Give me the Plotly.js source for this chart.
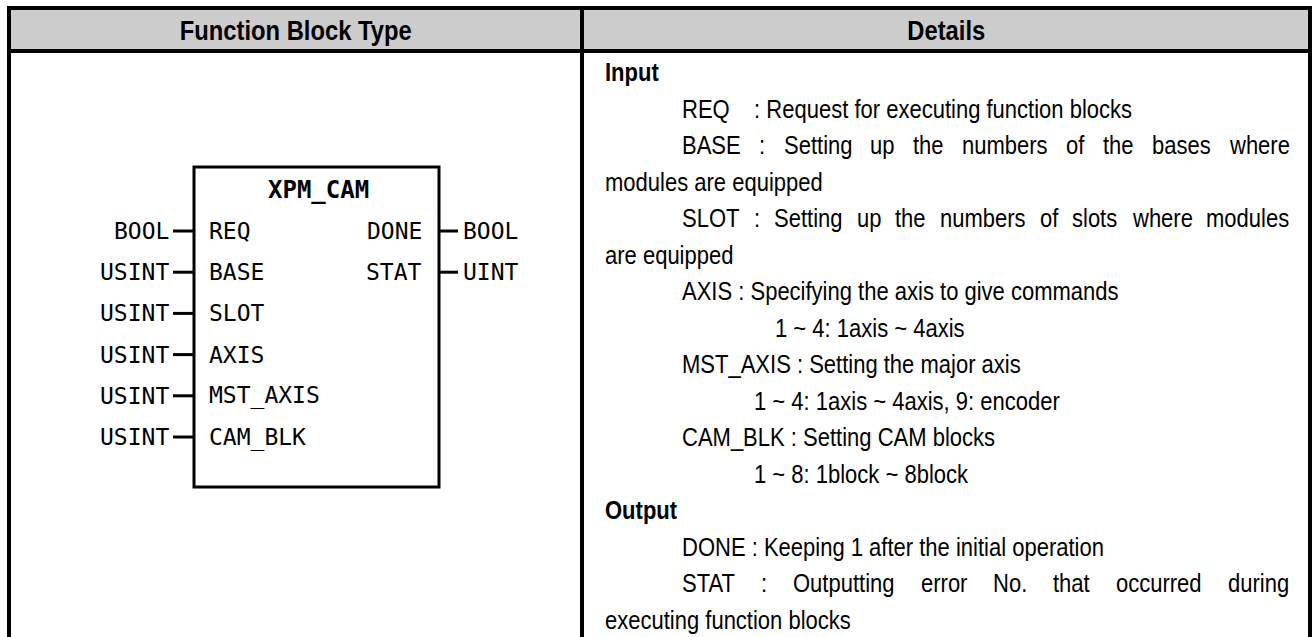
<!DOCTYPE html>
<html>
<head>
<meta charset="utf-8">
<script src="https://cdn.plot.ly/plotly-3.0.1.min.js"></script>
<style>
  html, body { margin: 0; padding: 0; background: #ffffff; }
  #chart { width: 1314px; height: 637px; }
</style>
</head>
<body>
<div id="chart"></div>
<script>
// ---------------- DATA ----------------
const headerLabels = ["Function Block Type", "Details"];
const blockName = "XPM_CAM";
const inputNames = ["REQ", "BASE", "SLOT", "AXIS", "MST_AXIS", "CAM_BLK"];
const inputTypes = ["BOOL", "USINT", "USINT", "USINT", "USINT", "USINT"];
const outputNames = ["DONE", "STAT"];
const outputTypes = ["BOOL", "UINT"];
const detailLines = [
  "Input",
  "REQ   : Request for executing function blocks",
  "BASE : Setting up the numbers of the bases where",
  "modules are equipped",
  "SLOT : Setting up the numbers of slots where modules",
  "are equipped",
  "AXIS : Specifying the axis to give commands",
  "1 ~ 4: 1axis ~ 4axis",
  "MST_AXIS : Setting the major axis",
  "1 ~ 4: 1axis ~ 4axis, 9: encoder",
  "CAM_BLK : Setting CAM blocks",
  "1 ~ 8: 1block ~ 8block",
  "Output",
  "DONE : Keeping 1 after the initial operation",
  "STAT : Outputting error No. that occurred during",
  "executing function blocks"
];
// role of each detail line (heading, item, justified item, wrapped continuation, range)
const detailRoles = [
  "head", "item", "itemJ", "wrap", "itemJ", "wrap", "item", "range2",
  "item", "range", "item", "range", "head", "item", "itemJ", "wrap"
];

// ---------------- LAYOUT / STYLE ----------------
const W = 1314, H = 637;
const T = { left: 9, right: 1310, top: 8, headBottom: 51, divider: 582, lw: 4 };
const BOX = { x0: 194, x1: 439, y0: 167, y1: 487, lw: 3 };
const PIN = { firstY: 231, step: 41.2, typeRight: 169, dashIn0: 173, nameIn: 209,
              outNameRight: 422, dashOut1: 458, typeOutLeft: 463 };
const DET = { firstY: 72, step: 36.5, textRight: 1289,
              indent: { head: 605, item: 682, itemJ: 682, wrap: 605, range: 754, range2: 775 } };
const bodyFont = '"Liberation Sans Narrow", "Arial Narrow", "Liberation Sans", Arial, sans-serif';
const monoFont = '"DejaVu Sans Mono", "Liberation Mono", monospace';
const bodySize = 25, headSize = 27, monoSize = 23;
const SX = 0.88;              // horizontal condensing of the body font (narrow look)
const black = "#000000", headGray = "#cccccc";

const shapes = [];
const annotations = [];
const condensed = [];         // indices of annotations drawn in the condensed body font

function line(x0, y0, x1, y1, w) {
  shapes.push({ type: "line", xref: "x", yref: "y", x0, y0, x1, y1,
    line: { color: black, width: w } });
}
function txt(x, y, text, o) {
  o = o || {};
  const xa = o.xanchor || "left";
  if (o.condense) condensed.push(annotations.length);
  annotations.push({
    x, y, xref: "x", yref: "y", text, showarrow: false,
    xanchor: xa, yanchor: "middle", align: xa,
    borderpad: 0, borderwidth: 0,
    font: { family: o.family || bodyFont, size: o.size || bodySize, color: black }
  });
}

// table header background + grid
shapes.push({ type: "rect", xref: "x", yref: "y", x0: T.left, x1: T.right, y0: T.top, y1: T.headBottom,
  fillcolor: headGray, line: { width: 0 } });
line(T.left - 2, T.top, T.right + 2, T.top, T.lw);
line(T.left - 2, T.headBottom, T.right + 2, T.headBottom, T.lw);
line(T.left, T.top, T.left, H + 5, T.lw);
line(T.right, T.top, T.right, H + 5, T.lw);
line(T.divider, T.top, T.divider, H + 5, T.lw);

const headY = (T.top + T.headBottom) / 2 + 1;
txt((T.left + T.divider) / 2, headY, "<b>" + headerLabels[0] + "</b>", { xanchor: "center", size: headSize, condense: true });
txt((T.divider + T.right) / 2, headY, "<b>" + headerLabels[1] + "</b>", { xanchor: "center", size: headSize, condense: true });

// function block diagram
shapes.push({ type: "rect", xref: "x", yref: "y", x0: BOX.x0, x1: BOX.x1, y0: BOX.y0, y1: BOX.y1,
  line: { color: black, width: BOX.lw }, fillcolor: "rgba(0,0,0,0)" });
txt((BOX.x0 + BOX.x1) / 2 + 2, 190, "<b>" + blockName + "</b>", { xanchor: "center", family: monoFont, size: 24 });

inputNames.forEach((n, i) => {
  const y = PIN.firstY + PIN.step * i;
  txt(PIN.typeRight, y, inputTypes[i], { xanchor: "right", family: monoFont, size: monoSize });
  line(PIN.dashIn0, y, BOX.x0, y, 3);
  txt(PIN.nameIn, y, n, { family: monoFont, size: monoSize });
});
outputNames.forEach((n, i) => {
  const y = PIN.firstY + PIN.step * i;
  txt(PIN.outNameRight, y, n, { xanchor: "right", family: monoFont, size: monoSize });
  line(BOX.x1, y, PIN.dashOut1, y, 3);
  txt(PIN.typeOutLeft, y, outputTypes[i], { family: monoFont, size: monoSize });
});

// details column
const cv = document.createElement("canvas").getContext("2d");
function measure(s) {
  cv.font = bodySize + "px " + bodyFont;
  return cv.measureText(s).width * SX;
}
detailLines.forEach((s, i) => {
  const role = detailRoles[i];
  const y = DET.firstY + DET.step * i;
  const x = DET.indent[role];
  const shown = s.replace(/ {2,}/g, m => "\u00a0".repeat(m.length + 1));
  if (role === "head") {
    txt(x, y, "<b>" + s + "</b>", { condense: true });
  } else if (role === "itemJ") {
    const words = s.split(" ");
    const widths = words.map(measure);
    const total = widths.reduce((a, b) => a + b, 0);
    const gap = (DET.textRight - x - total) / (words.length - 1);
    let cx = x;
    words.forEach((w, k) => { txt(cx, y, w, { condense: true }); cx += widths[k] + gap; });
  } else {
    txt(x, y, shown, { condense: true });
  }
});

const layout = {
  width: W, height: H,
  margin: { l: 0, r: 0, t: 0, b: 0, pad: 0 },
  paper_bgcolor: "#ffffff", plot_bgcolor: "#ffffff",
  xaxis: { range: [0, W], visible: false, fixedrange: true },
  yaxis: { range: [H, 0], visible: false, fixedrange: true },
  showlegend: false,
  shapes, annotations
};
Plotly.newPlot("chart", [{ x: [], y: [], type: "scatter", hoverinfo: "skip" }], layout,
  { staticPlot: true, displayModeBar: false }).then(gd => {
  // give the body text the condensed (narrow) proportions of the original
  condensed.forEach(i => {
    const el = gd.querySelector('g.annotation[data-index="' + i + '"] text.annotation-text');
    if (!el) return;
    const len = el.getComputedTextLength();
    el.setAttribute("lengthAdjust", "spacingAndGlyphs");
    el.setAttribute("textLength", (len * SX).toFixed(2));
  });
});
</script>
</body>
</html>
